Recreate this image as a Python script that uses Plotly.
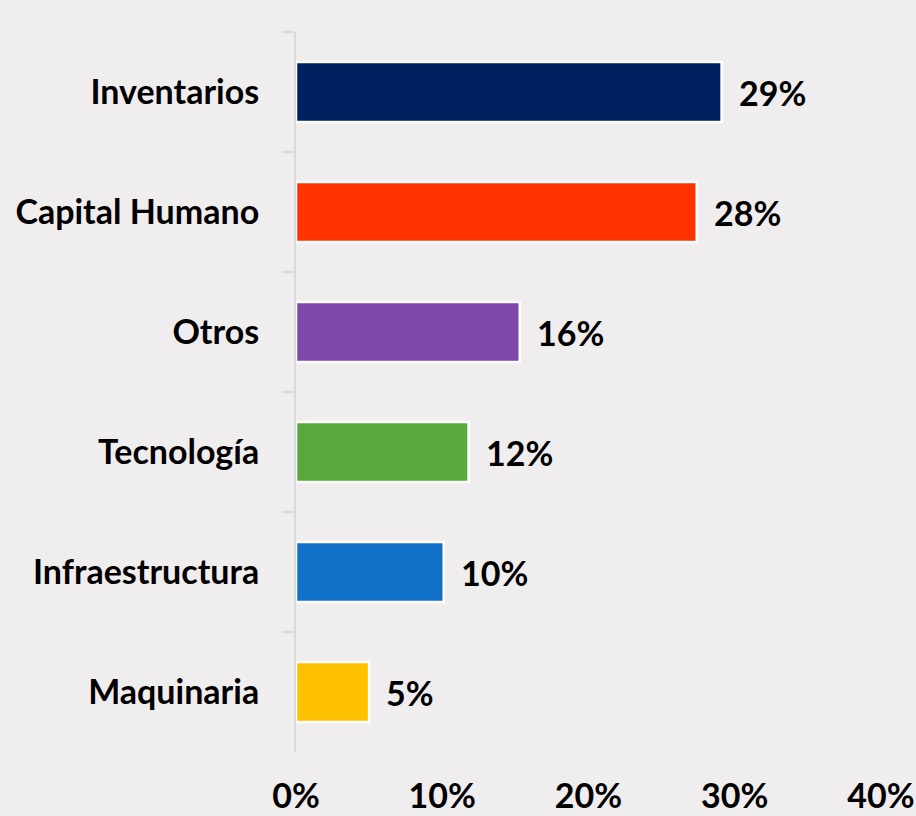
import plotly.graph_objects as go

categories = ["Inventarios", "Capital Humano", "Otros", "Tecnología", "Infraestructura", "Maquinaria"]
values = [0.291, 0.274, 0.153, 0.118, 0.101, 0.050]
value_labels = ["29%", "28%", "16%", "12%", "10%", "5%"]
colors = ["#002060", "#FF3300", "#7E48AA", "#59A83D", "#1170C8", "#FFC000"]

BG = "#EFEDEE"
FONT = dict(family="Lato, Carlito, sans-serif", size=34, color="#000000", weight="bold")

fig = go.Figure()
fig.add_trace(go.Bar(
    x=values,
    y=categories,
    orientation="h",
    marker=dict(color=colors, line=dict(color="white", width=2.5)),
    width=0.5,
    hoverinfo="skip",
))

for cat, val, lab in zip(categories, values, value_labels):
    fig.add_annotation(
        x=val, y=cat, text=lab, showarrow=False,
        xanchor="left", yanchor="middle", xshift=15,
        font=FONT,
    )

fig.update_layout(
    width=916, height=816,
    paper_bgcolor=BG, plot_bgcolor=BG,
    margin=dict(l=296, r=35, t=32, b=64),
    font=FONT,
    showlegend=False,
    xaxis=dict(
        range=[0, 0.40], tickvals=[0, 0.1, 0.2, 0.3, 0.4],
        tickformat=".0%", showgrid=False, zeroline=False, showline=False,
        ticks="", ticklabelstandoff=21, automargin=False, fixedrange=True,
    ),
    yaxis=dict(
        autorange="reversed", showline=True, linecolor="#D9D9D9", linewidth=2,
        ticks="outside", tickson="boundaries", ticklen=12, tickcolor="#D9D9D9",
        tickwidth=2, ticklabelstandoff=28, showgrid=False, automargin=False,
        fixedrange=True,
    ),
)

fig.write_html(
    "out.html",
    config={"displayModeBar": False},
    post_script="document.body.style.margin='0';document.body.style.background='#EFEDEE';",
)
